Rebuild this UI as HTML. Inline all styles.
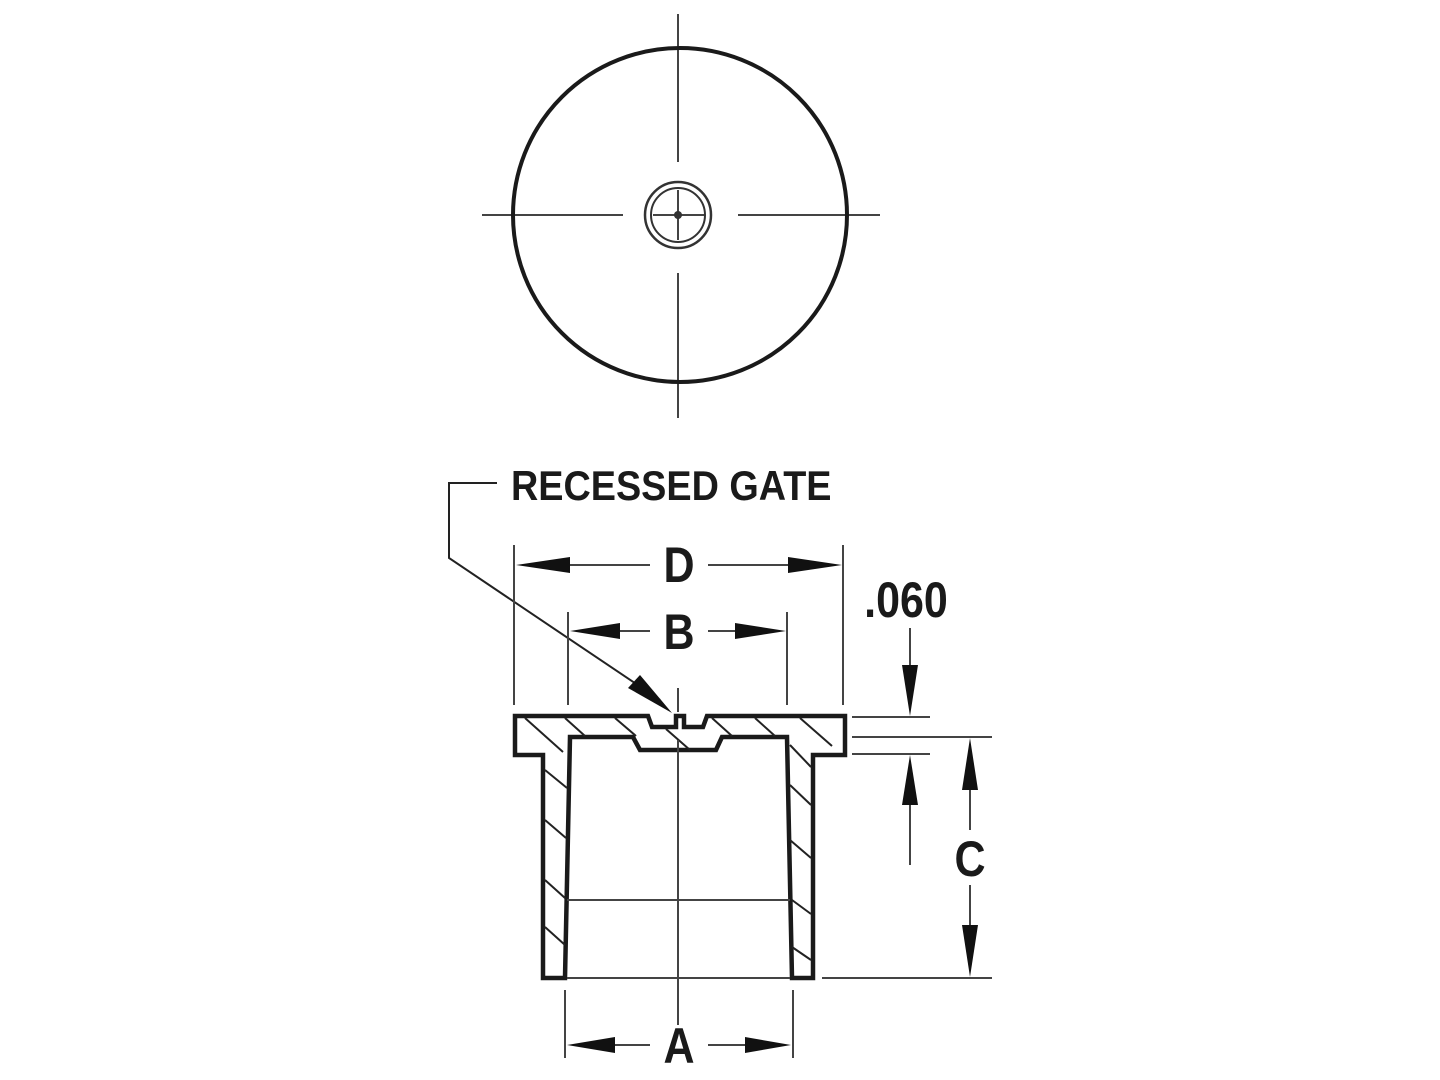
<!DOCTYPE html>
<html><head><style>
html,body{margin:0;padding:0;background:#fff;}
svg{display:block;}
text{font-family:"Liberation Sans",sans-serif;font-weight:bold;fill:#1a1a1a;}
</style></head><body>
<svg width="1440" height="1080" viewBox="0 0 1440 1080" xmlns="http://www.w3.org/2000/svg">
<g fill="none" stroke="#444" stroke-width="2">
<line x1="678" y1="14" x2="678" y2="162"/>
<line x1="678" y1="273" x2="678" y2="418"/>
<line x1="482" y1="215" x2="623" y2="215"/>
<line x1="738" y1="215" x2="880" y2="215"/>
<line x1="653" y1="215" x2="705" y2="215"/>
<line x1="678" y1="190" x2="678" y2="240"/>
</g>
<circle cx="680" cy="215" r="167" fill="none" stroke="#1a1a1a" stroke-width="4"/>
<circle cx="678" cy="215" r="33" fill="none" stroke="#333" stroke-width="2.5"/>
<circle cx="678" cy="215" r="27" fill="none" stroke="#333" stroke-width="2"/>
<circle cx="678" cy="215" r="4" fill="#333"/>

<polyline points="497,483 449,483 449,558 660,700" fill="none" stroke="#222" stroke-width="2"/>
<polygon points="672,713 628,688 640,675" fill="#111"/>
<text x="511" y="500" font-size="42" transform="translate(511 0) scale(0.9 1) translate(-511 0)">RECESSED GATE</text>

<g stroke="#1a1a1a" stroke-width="4.5" fill="none" stroke-linejoin="miter">
<path d="M515,716 L648,716 L652,727 L676,727 L676,716 L684,716 L684,727 L703,727 L707,716 L845,716 L845,755 L813,755 L813,978 L792,978 L787,737 L722,737 L716,750 L640,750 L633,737 L570,737 L565,978 L543,978 L543,755 L515,755 Z"/>
</g>
<g stroke="#222" stroke-width="2">
<line x1="525" y1="718" x2="563" y2="752"/>
<line x1="565" y1="718" x2="585" y2="736"/>
<line x1="615" y1="718" x2="636" y2="736"/>
<line x1="666" y1="729" x2="690" y2="750"/>
<line x1="712" y1="718" x2="732" y2="736"/>
<line x1="755" y1="718" x2="775" y2="736"/>
<line x1="800" y1="718" x2="832" y2="746"/>
<line x1="790" y1="745" x2="811" y2="767"/>
<line x1="545" y1="770" x2="567" y2="788"/>
<line x1="545" y1="820" x2="566" y2="838"/>
<line x1="545" y1="880" x2="565" y2="898"/>
<line x1="545" y1="927" x2="565" y2="945"/>
<line x1="790" y1="785" x2="811" y2="805"/>
<line x1="790" y1="840" x2="811" y2="858"/>
<line x1="792" y1="900" x2="811" y2="914"/>
<line x1="792" y1="947" x2="811" y2="960"/>
</g>
<g stroke="#444" stroke-width="2" fill="none">
<line x1="567" y1="900" x2="790" y2="900"/>
<line x1="567" y1="978" x2="790" y2="978"/>
<line x1="678" y1="688" x2="678" y2="712"/>
<line x1="678" y1="740" x2="678" y2="1025"/>
<line x1="514" y1="545" x2="514" y2="705"/>
<line x1="843" y1="545" x2="843" y2="705"/>
<line x1="568" y1="612" x2="568" y2="705"/>
<line x1="787" y1="612" x2="787" y2="705"/>
<line x1="565" y1="990" x2="565" y2="1058"/>
<line x1="793" y1="990" x2="793" y2="1058"/>
<line x1="852" y1="717" x2="930" y2="717"/>
<line x1="852" y1="737" x2="992" y2="737"/>
<line x1="852" y1="754" x2="930" y2="754"/>
<line x1="822" y1="978" x2="992" y2="978"/>
<line x1="570" y1="565" x2="650" y2="565"/>
<line x1="708" y1="565" x2="790" y2="565"/>
<line x1="620" y1="631" x2="650" y2="631"/>
<line x1="708" y1="631" x2="735" y2="631"/>
<line x1="615" y1="1045" x2="650" y2="1045"/>
<line x1="708" y1="1045" x2="745" y2="1045"/>
<line x1="910" y1="628" x2="910" y2="670"/>
<line x1="910" y1="800" x2="910" y2="865"/>
<line x1="970" y1="790" x2="970" y2="830"/>
<line x1="970" y1="885" x2="970" y2="925"/>
</g>
<g fill="#111">
<polygon points="516,565 570,557 570,573"/>
<polygon points="842,565 788,557 788,573"/>
<polygon points="570,631 620,623 620,639"/>
<polygon points="786,631 735,623 735,639"/>
<polygon points="567,1045 615,1037 615,1053"/>
<polygon points="791,1045 745,1037 745,1053"/>
<polygon points="910,716 902,665 918,665"/>
<polygon points="910,755 902,805 918,805"/>
<polygon points="970,738 962,790 978,790"/>
<polygon points="970,977 962,925 978,925"/>
</g>
<g font-size="50" text-anchor="middle">
<text x="679" y="582" transform="translate(679 0) scale(0.86 1) translate(-679 0)">D</text>
<text x="679" y="649" transform="translate(679 0) scale(0.86 1) translate(-679 0)">B</text>
<text x="679" y="1063" transform="translate(679 0) scale(0.86 1) translate(-679 0)">A</text>
<text x="970" y="876" transform="translate(970 0) scale(0.86 1) translate(-970 0)">C</text>
<text x="906" y="617" transform="translate(906 0) scale(0.86 1) translate(-906 0)">.060</text>
</g>
</svg>
</body></html>
